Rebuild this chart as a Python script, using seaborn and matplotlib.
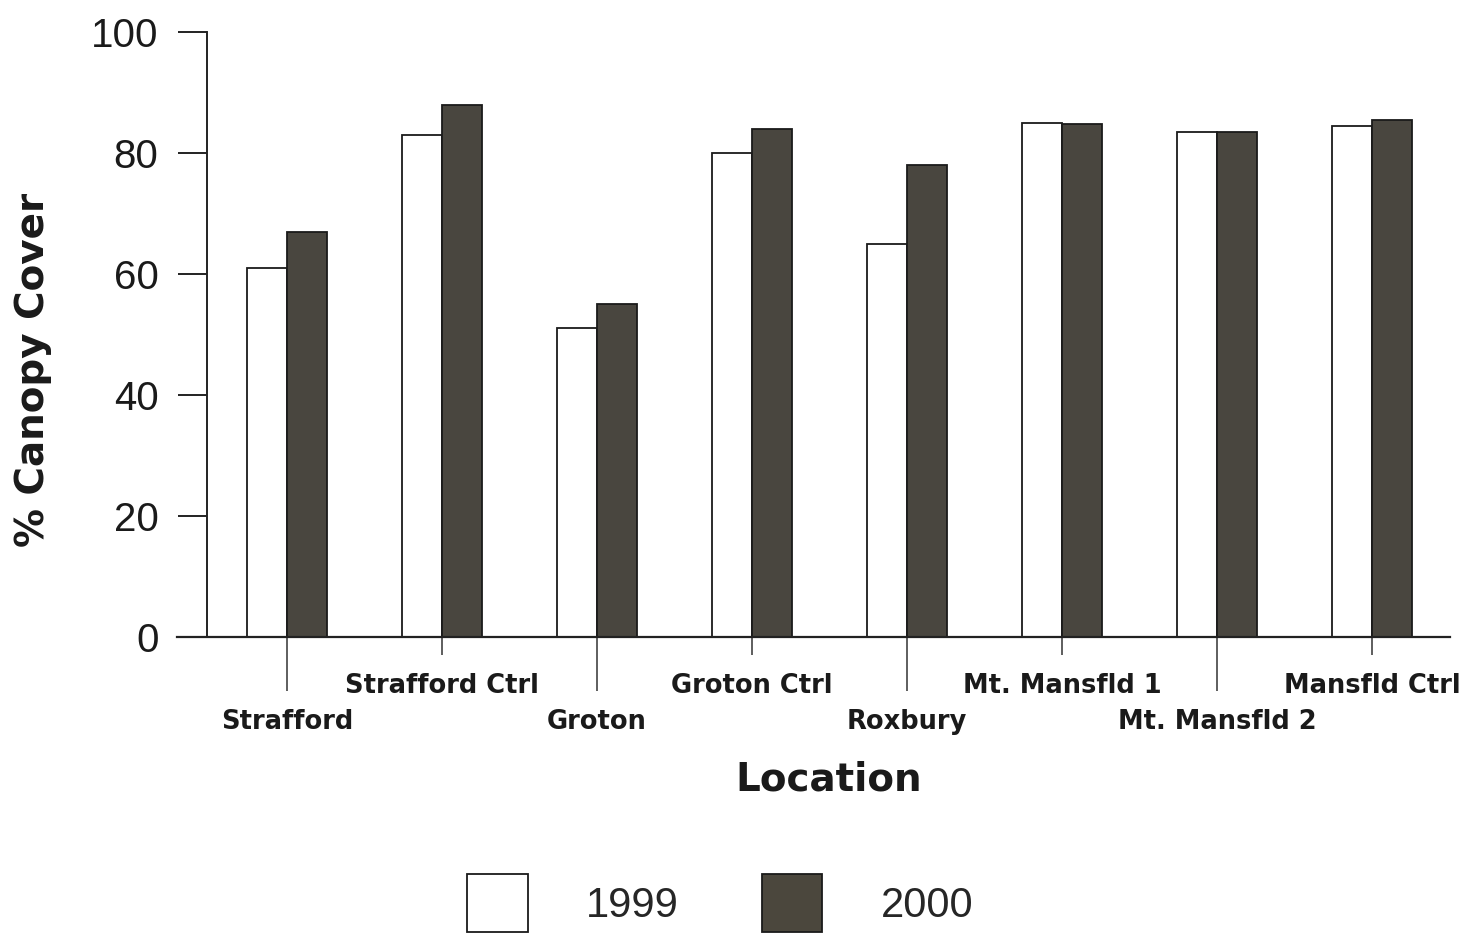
import matplotlib
matplotlib.use("Agg")
import matplotlib.pyplot as plt
from matplotlib.patches import Patch
import seaborn as sns
import pandas as pd

# Canopy cover (%) by site and survey year
locations = ["Strafford", "Strafford Ctrl", "Groton", "Groton Ctrl",
             "Roxbury", "Mt. Mansfld 1", "Mt. Mansfld 2", "Mansfld Ctrl"]
cover_1999 = [61, 83, 51, 80, 65, 85, 83.5, 84.5]
cover_2000 = [67, 88, 55, 84, 78, 84.8, 83.5, 85.5]
years = ["1999", "2000"]
y_ticks = [0, 20, 40, 60, 80, 100]

df = pd.DataFrame({
    "Location": locations * 2,
    "Cover": cover_1999 + cover_2000,
    "Year": [years[0]] * len(locations) + [years[1]] * len(locations),
})

DARK = "#4b473d"
palette = {"1999": "white", "2000": DARK}

sns.set_style("white")
fig = plt.figure(figsize=(14.64, 9.36), dpi=100)
ax = fig.add_axes([0.1414, 0.3194, 0.8490, 0.6464])

sns.barplot(data=df, x="Location", y="Cover", hue="Year", order=locations,
            hue_order=years, palette=palette, width=0.516, gap=0,
            edgecolor="#1a1a1a", linewidth=1.3, legend=False, ax=ax)

ax.set_xlim(-0.516, 7.5)
ax.set_ylim(0, 100)

# spines
for s in ("top", "right"):
    ax.spines[s].set_visible(False)
ax.spines["left"].set_linewidth(1.4)
ax.spines["left"].set_color("#222222")
ax.spines["bottom"].set_linewidth(1.6)
ax.spines["bottom"].set_color("#222222")
ax.spines["bottom"].set_bounds(-0.71, 7.5)

# y axis
ax.set_yticks(y_ticks)
ax.set_yticklabels([str(v) for v in y_ticks], fontsize=29,
                   family="Liberation Sans", color="#1a1a1a")
ax.tick_params(axis="y", direction="out", length=21, width=1.4,
               color="#222222", pad=14, left=True)

# staggered category labels: lower row on long ticks, upper row on short ticks
lower = list(range(0, len(locations), 2))
upper = list(range(1, len(locations), 2))
ax.set_xticks(lower)
ax.set_xticklabels([locations[i] for i in lower])
ax.set_xticks(upper, minor=True)
ax.set_xticklabels([locations[i] for i in upper], minor=True)
for lab in ax.get_xticklabels(which="both"):
    lab.set_fontsize(18.5)
    lab.set_fontweight("bold")
    lab.set_family("DejaVu Sans")
    lab.set_color("#1a1a1a")
ax.tick_params(axis="x", which="major", direction="out", length=39, width=1.1,
               color="#333333", pad=13, bottom=True)
ax.tick_params(axis="x", which="minor", direction="out", length=13, width=1.1,
               color="#333333", pad=13, bottom=True)

ax.set_xlabel("Location", fontsize=28, fontweight="bold", family="DejaVu Sans",
              color="#1a1a1a", labelpad=18)
ax.set_ylabel("% Canopy Cover", fontsize=28, fontweight="bold",
              family="DejaVu Sans", color="#1a1a1a")
ax.yaxis.set_label_coords(-0.125, 0.441)
ax.grid(False)

handles = [Patch(facecolor=palette[y], edgecolor="#1a1a1a", linewidth=1.3)
           for y in years]
fig.legend(handles, years, loc="center", bbox_to_anchor=(0.492, 0.035),
           ncol=2, frameon=False, handlelength=1.45, handleheight=1.75,
           handletextpad=1.4, columnspacing=2.0,
           prop={"family": "Liberation Sans", "size": 30})

fig.savefig("out.png", dpi=100, facecolor="white")
